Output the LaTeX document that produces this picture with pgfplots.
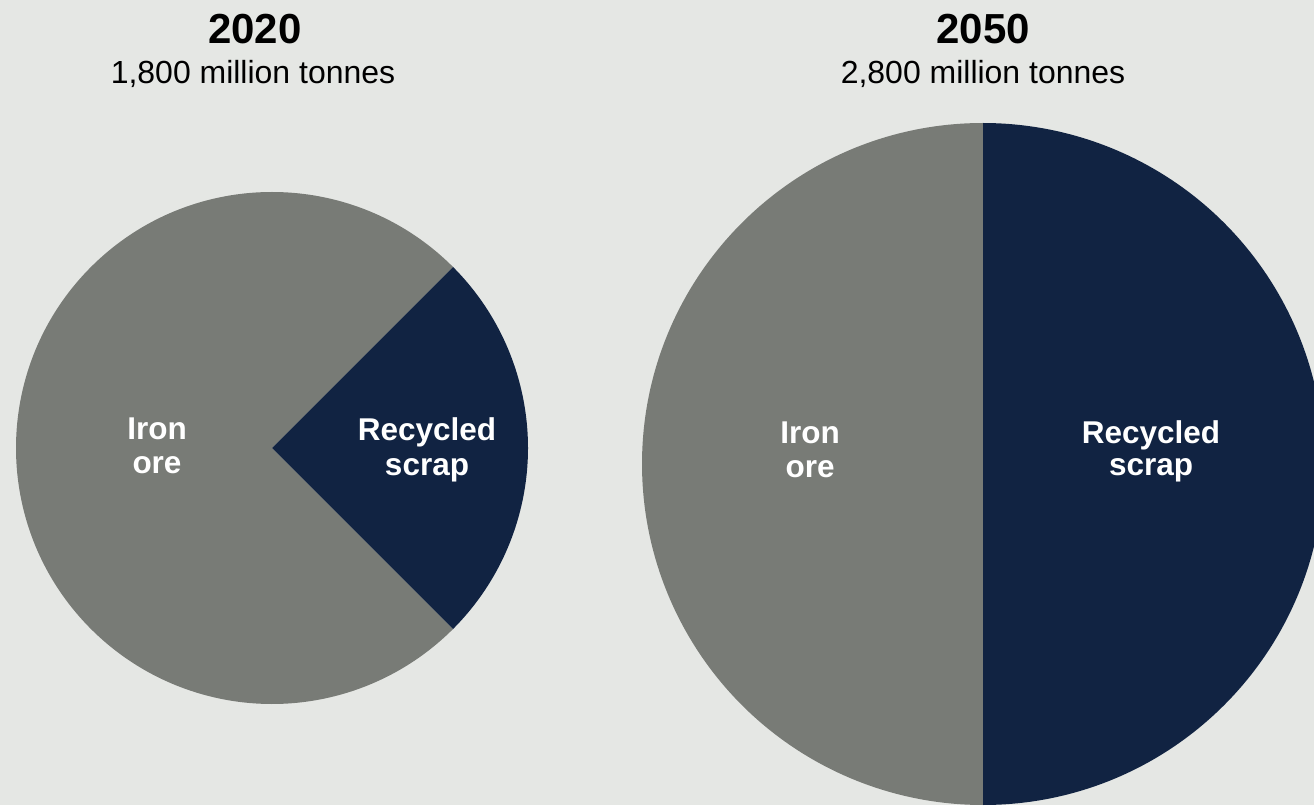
\documentclass[border=0pt]{standalone}
\usepackage{fontspec}
\setmainfont{Liberation Sans}
\usepackage{pgfplots}
\pgfplotsset{compat=1.18}
\definecolor{bg}{RGB}{229,231,228}
\definecolor{ironc}{RGB}{120,123,118}
\definecolor{scrapc}{RGB}{17,35,66}
% data: shares in percent
\def\ironA{75}\def\scrapA{25}
\def\ironB{50}\def\scrapB{50}
\begin{document}
\begin{tikzpicture}
\pgfmathsetmacro{\pieAs}{-\scrapA*1.8}
\pgfmathsetmacro{\pieAm}{\scrapA*1.8}
\pgfmathsetmacro{\pieAe}{\pieAm+\ironA*3.6}
\pgfmathsetmacro{\pieBs}{-\scrapB*1.8}
\pgfmathsetmacro{\pieBm}{\scrapB*1.8}
\pgfmathsetmacro{\pieBe}{\pieBm+\ironB*3.6}
\begin{axis}[name=ax, scale only axis, width=13.14cm, height=8.05cm,
  xmin=0, xmax=1314, ymin=0, ymax=805, hide axis, clip=true]
\fill[bg] (axis cs:0,0) rectangle (axis cs:1314,805);
\begin{scope}
\clip (axis cs:0,0) rectangle (axis cs:1314,805);
% 2020 pie: centre (273,357), r = 256 units = 2.56cm
\fill[ironc] (axis cs:272,357) -- +(\pieAm:2.56cm) arc[start angle=\pieAm, end angle=\pieAe, radius=2.56cm] -- cycle;
\fill[scrapc] (axis cs:272,357) -- +(\pieAs:2.56cm) arc[start angle=\pieAs, end angle=\pieAm, radius=2.56cm] -- cycle;
% 2050 pie: centre (983,341), r = 341 units
\fill[ironc] (axis cs:983,341) -- +(\pieBm:3.41cm) arc[start angle=\pieBm, end angle=\pieBe, radius=3.41cm] -- cycle;
\fill[scrapc] (axis cs:983,341) -- +(\pieBs:3.41cm) arc[start angle=\pieBs, end angle=\pieBm, radius=3.41cm] -- cycle;
\end{scope}
% titles
\node[anchor=base, font=\bfseries\fontsize{11.95}{13}\selectfont] at (axis cs:255,761) {2020};
\node[anchor=base, font=\fontsize{9.1}{10}\selectfont] at (axis cs:253,721) {1,800 million tonnes};
\node[anchor=base, font=\bfseries\fontsize{11.95}{13}\selectfont] at (axis cs:983,761) {2050};
\node[anchor=base, font=\fontsize{9.1}{10}\selectfont] at (axis cs:983,721) {2,800 million tonnes};
% labels
\tikzset{lab/.style={anchor=base, text=white, font=\bfseries\fontsize{8.96}{10}\selectfont}}
\node[lab] at (axis cs:157,365) {Iron};
\node[lab] at (axis cs:157,331) {ore};
\node[lab] at (axis cs:427,364) {Recycled};
\node[lab] at (axis cs:427,329) {scrap};
\node[lab] at (axis cs:810,361) {Iron};
\node[lab] at (axis cs:810,327) {ore};
\node[lab] at (axis cs:1151,361) {Recycled};
\node[lab] at (axis cs:1151,329) {scrap};
\end{axis}
\pgfresetboundingbox
\useasboundingbox (ax.south west) rectangle (ax.north east);
\end{tikzpicture}
\end{document}
